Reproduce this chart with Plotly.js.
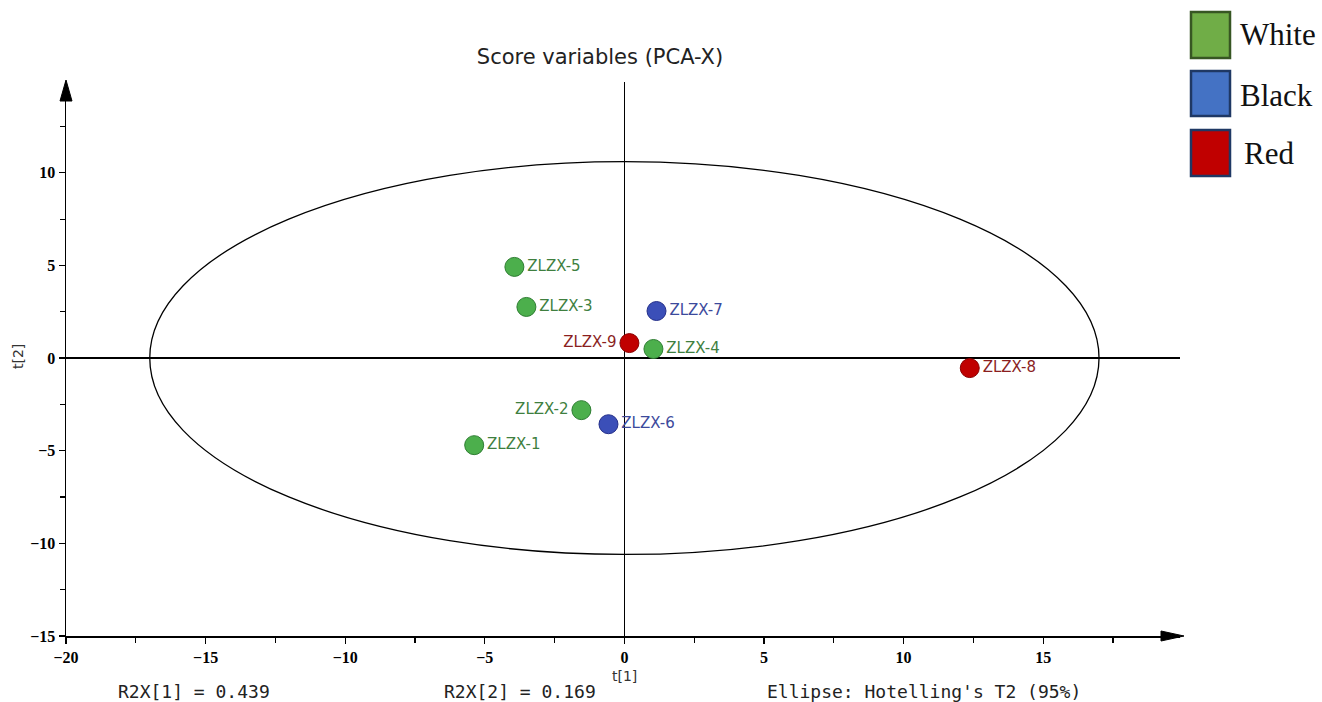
<!DOCTYPE html>
<html>
<head>
<meta charset="utf-8">
<script src="https://cdn.plot.ly/plotly-3.0.1.min.js"></script>
<style>html,body{margin:0;padding:0;background:#fff;}#chart{width:1322px;height:702px;}</style>
</head>
<body>
<div id="chart"></div>
<script>
// Data
const samples = ['ZLZX-1','ZLZX-2','ZLZX-3','ZLZX-4','ZLZX-5','ZLZX-6','ZLZX-7','ZLZX-8','ZLZX-9'];
const t1 = [-5.38, -1.54, -3.51, 1.04, -3.94, -0.57, 1.15, 12.37, 0.18];
const t2 = [-4.70, -2.81, 2.76, 0.49, 4.92, -3.57, 2.54, -0.54, 0.81];
const groups = ['White','White','White','White','White','Black','Black','Red','Red'];
const labelSide = ['right','left','right','right','right','right','right','right','left'];
const groupNames = ['White','Black','Red'];
const ellipseRadii = [17.0, 10.6]; // Hotelling's T2 (95%) semi-axes
const r2xLabels = ['R2X[1] = 0.439', 'R2X[2] = 0.169', "Ellipse: Hotelling's T2 (95%)"];

const style = {
  White: {fill:'#4caf4c', line:'#2e7d32', text:'#3f7f3f', legFill:'#70ad47', legLine:'#375623'},
  Black: {fill:'#3b4fb8', line:'#25308a', text:'#3c4a9c', legFill:'#4472c4', legLine:'#1f3864'},
  Red:   {fill:'#c00000', line:'#8b0000', text:'#8b1f1f', legFill:'#c00000', legLine:'#1f3864'}
};

const traces = groupNames.map(g => {
  const idx = groups.map((v,i)=>v===g?i:-1).filter(i=>i>=0);
  return {
    type:'scatter', mode:'markers+text', name:g,
    x: idx.map(i=>t1[i]), y: idx.map(i=>t2[i]),
    text: idx.map(i=>samples[i]),
    textposition: idx.map(i=>labelSide[i]==='left'?'middle left':'middle right'),
    textfont:{family:'DejaVu Sans', size:15, color:style[g].text},
    marker:{size:19, color:style[g].fill, line:{color:style[g].line, width:1}},
    cliponaxis:false, showlegend:false, hoverinfo:'text'
  };
});

const L = 66, T = 82, W = 1114, H = 554;
const px = x => (x - L)/W;
const py = y => (T + H - y)/H;

const shapes = [
  {type:'circle', xref:'x', yref:'y', x0:-ellipseRadii[0], x1:ellipseRadii[0], y0:-ellipseRadii[1], y1:ellipseRadii[1], line:{color:'black', width:1.3}, layer:'below'},
  // x-axis arrowhead
  {type:'path', xref:'paper', yref:'paper', path:`M ${px(1161)},${py(631)} L ${px(1184)},${py(636)} L ${px(1161)},${py(641)} Z`, fillcolor:'black', line:{color:'black', width:1}},
  // y-axis arrowhead
  {type:'path', xref:'paper', yref:'paper', path:`M ${px(60)},${py(101)} L ${px(66)},${py(80)} L ${px(72)},${py(101)} Z`, fillcolor:'black', line:{color:'black', width:1}}
];

const legendY = [[12,58],[71,116],[130,176]];
const legendTextY = [35, 95, 153];
const legendTextX = [1238, 1238, 1242];
groupNames.forEach((g,k)=>{
  shapes.push({type:'rect', xref:'paper', yref:'paper', x0:px(1191), x1:px(1230), y0:py(legendY[k][1]), y1:py(legendY[k][0]), fillcolor:style[g].legFill, line:{color:style[g].legLine, width:2.5}});
});

const ann = (text, x, y, font, extra) => Object.assign({text:text, xref:'paper', yref:'paper', x:px(x), y:py(y), xanchor:'center', yanchor:'middle', showarrow:false, font:font}, extra||{});
const sansFont = {family:'DejaVu Sans', size:14, color:'#333'};
const monoFont = {family:'DejaVu Sans Mono', size:18, color:'#222'};
const annotations = [
  ann('t[1]', 624, 676, sansFont),
  ann('t[2]', 18, 357, sansFont, {textangle:-90}),
  ann(r2xLabels[0], 194, 691, monoFont),
  ann(r2xLabels[1], 520, 691, monoFont),
  ann(r2xLabels[2], 924, 691, monoFont)
];
groupNames.forEach((g,k)=>{
  annotations.push(ann(g, legendTextX[k], legendTextY[k], {family:'Liberation Serif', size:31, color:'#111'}, {xanchor:'left'}));
});

const axisCommon = {
  showgrid:false, zeroline:true, zerolinecolor:'black', zerolinewidth:1.2,
  showline:true, linecolor:'black', linewidth:1.5,
  ticks:'outside', ticklen:6, tickcolor:'black', tickwidth:1.3,
  tickfont:{family:'Liberation Serif', size:16, color:'black', weight:'bold'},
  dtick:5, tick0:0,
  minor:{ticks:'outside', ticklen:5, dtick:2.5, tick0:0, tickcolor:'black', tickwidth:1.2},
  fixedrange:true
};

const layout = {
  width:1322, height:702,
  margin:{l:L, r:1322-L-W, t:T, b:702-T-H},
  paper_bgcolor:'white', plot_bgcolor:'white',
  title:{text:'Score variables (PCA-X)', x:600/1322, xanchor:'center', y:1-57/702, yanchor:'middle', font:{family:'DejaVu Sans', size:21, color:'#222'}},
  xaxis:Object.assign({}, axisCommon, {range:[-20, 19.9]}),
  yaxis:Object.assign({}, axisCommon, {range:[-15, 14.9]}),
  shapes:shapes, annotations:annotations, showlegend:false
};

Plotly.newPlot('chart', traces, layout, {displayModeBar:false, staticPlot:true});
</script>
</body>
</html>
